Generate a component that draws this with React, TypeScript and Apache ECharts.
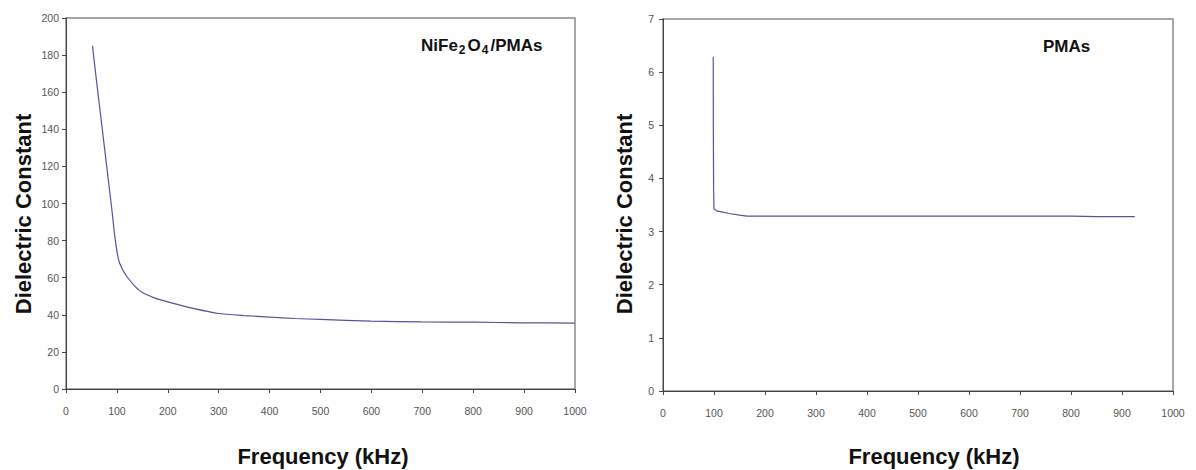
import React, { useEffect, useRef } from "react";
import * as echarts from "echarts";

const leftFreq = [52, 60, 70, 80, 90, 96, 103, 110, 120, 135, 150, 175, 200, 250, 300, 350, 400, 450, 500, 600, 700, 800, 900, 1000];
const leftDielectric = [185, 166, 143, 120, 97, 82, 70, 65, 60.5, 55.5, 52, 49, 47, 43.5, 40.7, 39.6, 38.8, 38, 37.5, 36.6, 36.2, 36, 35.7, 35.5];

const rightFreq = [98.5, 98.7, 99.2, 100, 105, 115, 130, 150, 165, 200, 300, 500, 700, 800, 850, 900, 925];
const rightDielectric = [6.29, 5.0, 3.8, 3.43, 3.39, 3.37, 3.34, 3.31, 3.29, 3.29, 3.29, 3.29, 3.29, 3.29, 3.28, 3.28, 3.28];

const xTicks = [0, 1000, 100];
const leftYTicks = [0, 200, 20];
const rightYTicks = [0, 7, 1];

const LINE = "#5353a3";
const TICKFONT = "'Liberation Sans Narrow', 'Liberation Sans', Arial, sans-serif";
const BOLDFONT = "'Liberation Sans', Arial, sans-serif";

function pair(xs: number[], ys: number[]) {
  return xs.map((x, i) => [x, ys[i]]);
}

export default function App() {
  const ref = useRef<HTMLDivElement>(null);
  useEffect(() => {
    if (!ref.current) return;
    const chart = echarts.init(ref.current, undefined, { renderer: "svg" });
    const label = { color: "#555", fontSize: 10.5, fontFamily: TICKFONT, formatter: (v: number) => String(v) };
    const axisCommon = {
      type: "value" as const,
      axisLine: { show: true, lineStyle: { color: "#444", width: 1 } },
      axisTick: { show: true, inside: false, length: 4, lineStyle: { color: "#444" } },
      splitLine: { show: false },
    };
    chart.setOption({
      animation: false,
      backgroundColor: "#ffffff",
      grid: [
        { left: 66, top: 18, width: 509, height: 371, show: true, borderColor: "#8a8a8a", borderWidth: 1.5, backgroundColor: "transparent" },
        { left: 663, top: 19, width: 510, height: 372, show: true, borderColor: "#8a8a8a", borderWidth: 1.5, backgroundColor: "transparent" },
      ],
      xAxis: [
        { ...axisCommon, gridIndex: 0, min: xTicks[0], max: xTicks[1], interval: xTicks[2], axisLabel: { ...label, margin: 16 } },
        { ...axisCommon, gridIndex: 1, min: xTicks[0], max: xTicks[1], interval: xTicks[2], axisLabel: { ...label, margin: 16 } },
      ],
      yAxis: [
        { ...axisCommon, gridIndex: 0, min: leftYTicks[0], max: leftYTicks[1], interval: leftYTicks[2], axisLabel: { ...label, margin: 7 } },
        { ...axisCommon, gridIndex: 1, min: rightYTicks[0], max: rightYTicks[1], interval: rightYTicks[2], axisLabel: { ...label, margin: 9 } },
      ],
      series: [
        {
          type: "line", xAxisIndex: 0, yAxisIndex: 0, data: pair(leftFreq, leftDielectric),
          showSymbol: false, smooth: 0.2, lineStyle: { color: LINE, width: 1.2 },
        },
        {
          type: "line", xAxisIndex: 1, yAxisIndex: 1, data: pair(rightFreq, rightDielectric),
          showSymbol: false, lineStyle: { color: LINE, width: 1.2 },
        },
      ],
      graphic: [
        {
          type: "text", x: 23, y: 214, rotation: Math.PI / 2,
          style: { text: "Dielectric Constant", font: `bold 22px ${BOLDFONT}`, fill: "#111", align: "center", verticalAlign: "middle" },
        },
        {
          type: "text", x: 624, y: 214, rotation: Math.PI / 2,
          style: { text: "Dielectric Constant", font: `bold 22px ${BOLDFONT}`, fill: "#111", align: "center", verticalAlign: "middle" },
        },
        {
          type: "text", x: 323, y: 456,
          style: { text: "Frequency (kHz)", font: `bold 22px ${BOLDFONT}`, fill: "#111", align: "center", verticalAlign: "middle" },
        },
        {
          type: "text", x: 934, y: 456,
          style: { text: "Frequency (kHz)", font: `bold 22px ${BOLDFONT}`, fill: "#111", align: "center", verticalAlign: "middle" },
        },
        {
          type: "text", x: 421, y: 45,
          style: {
            text: "{n|NiFe}{s|2}{n|O}{s|4}{n|/PMAs}",
            align: "left", verticalAlign: "middle",
            rich: {
              n: { font: `bold 17px ${BOLDFONT}`, fill: "#111", verticalAlign: "middle" },
              s: { font: `bold 12px ${BOLDFONT}`, fill: "#111", padding: [10, 2, 0, 1] },
            },
          },
        },
        {
          type: "text", x: 1043, y: 46,
          style: { text: "PMAs", font: `bold 17px ${BOLDFONT}`, fill: "#111", align: "left", verticalAlign: "middle" },
        },
      ],
    });
    return () => chart.dispose();
  }, []);
  return <div ref={ref} style={{ position: "fixed", left: 0, top: 0, width: 1196, height: 470 }} />;
}
